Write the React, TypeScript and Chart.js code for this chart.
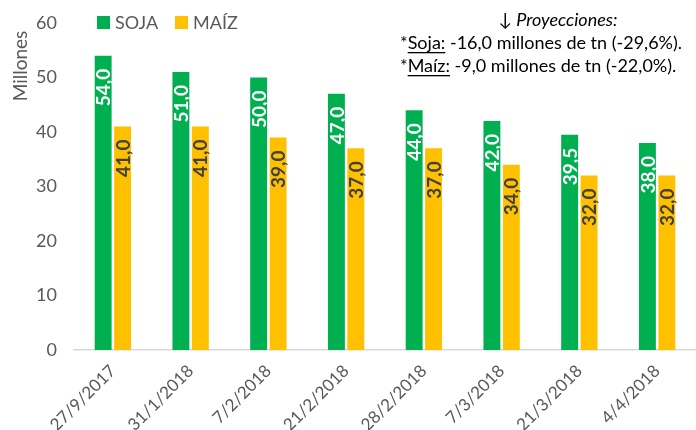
import React, { useEffect, useRef } from "react";
import { Chart, registerables } from "chart.js";

Chart.register(...registerables);

const categories = ["27/9/2017", "31/1/2018", "7/2/2018", "21/2/2018", "28/2/2018", "7/3/2018", "21/3/2018", "4/4/2018"];
const sojaValues = [54, 51, 50, 47, 44, 42, 39.5, 38];
const maizValues = [41, 41, 39, 37, 37, 34, 32, 32];
const seriesNames = ["SOJA", "MAÍZ"];
const yMin = 0;
const yMax = 60;
const yStep = 10;
const yTitle = "Millones";
const noteTitle = "↓ Proyecciones:";
const noteLines = [
  { key: "Soja:", rest: " -16,0 millones de tn (-29,6%)." },
  { key: "Maíz:", rest: " -9,0 millones de tn (-22,0%)." },
];

const GREEN = "#00B050";
const YELLOW = "#FFC000";
const FONT = "Lato, 'Open Sans', sans-serif";

const fmt = (v: number) => v.toFixed(1).replace(".", ",");

const overlayPlugin = {
  id: "overlay",
  afterDatasetsDraw(chart: any) {
    const ctx = chart.ctx;
    ctx.save();
    // value labels
    chart.data.datasets.forEach((ds: any, di: number) => {
      const meta = chart.getDatasetMeta(di);
      meta.data.forEach((el: any, i: number) => {
        const v = ds.data[i];
        ctx.save();
        ctx.translate(el.x, el.y);
        ctx.rotate(-Math.PI / 2);
        ctx.font = `bold 19px ${FONT}`;
        ctx.fillStyle = di === 0 ? "#FFFFFF" : "#404040";
        ctx.textAlign = "right";
        ctx.textBaseline = "middle";
        ctx.fillText(fmt(v), -13, 1);
        ctx.restore();
      });
    });
    // y title
    ctx.save();
    ctx.translate(21, 66);
    ctx.rotate(-Math.PI / 2);
    ctx.font = `19px ${FONT}`;
    ctx.fillStyle = "#595959";
    ctx.textAlign = "center";
    ctx.textBaseline = "middle";
    ctx.fillText(yTitle, 0, 0);
    ctx.restore();
    // legend
    const colors = [GREEN, YELLOW];
    const lx = [97, 175];
    ctx.font = `18px ${FONT}`;
    ctx.textBaseline = "middle";
    ctx.textAlign = "left";
    seriesNames.forEach((n, i) => {
      ctx.fillStyle = colors[i];
      ctx.fillRect(lx[i], 16, 13, 13);
      ctx.fillStyle = "#595959";
      ctx.fillText(n, lx[i] + 18, 23);
    });
    // note
    ctx.fillStyle = "#000000";
    ctx.font = `italic 18px ${FONT}`;
    ctx.textAlign = "center";
    ctx.fillText(noteTitle, 558, 20);
    ctx.textAlign = "left";
    ctx.font = `18px ${FONT}`;
    noteLines.forEach((ln, i) => {
      const y = 43 + i * 23;
      let x = 400;
      ctx.fillText("*", x, y);
      x += ctx.measureText("*").width;
      const kw = ctx.measureText(ln.key).width;
      ctx.fillText(ln.key, x, y);
      ctx.fillRect(x, y + 9, kw, 1.3);
      x += kw;
      ctx.fillText(ln.rest, x, y);
    });
    ctx.restore();
  },
};

export default function App() {
  const ref = useRef<HTMLCanvasElement>(null);
  useEffect(() => {
    if (!ref.current) return;
    const chart = new Chart(ref.current, {
      type: "bar",
      data: {
        labels: categories,
        datasets: [
          { label: seriesNames[0], data: sojaValues, backgroundColor: GREEN, categoryPercentage: 0.5, barPercentage: 0.87 },
          { label: seriesNames[1], data: maizValues, backgroundColor: YELLOW, categoryPercentage: 0.5, barPercentage: 0.87 },
        ],
      },
      options: {
        responsive: false,
        animation: false,
        devicePixelRatio: 1,
        layout: { padding: { top: 23, right: -8, bottom: 0, left: 0 } },
        plugins: { legend: { display: false }, tooltip: { enabled: false } },
        scales: {
          x: {
            grid: { display: false },
            border: { color: "#D9D9D9", width: 1.5 },
            ticks: { color: "#595959", font: { family: FONT, size: 17 }, maxRotation: 45, minRotation: 45, padding: 3 },
            afterFit(scale: any) { scale.height = 80; },
          },
          y: {
            min: yMin,
            max: yMax,
            grid: { display: false },
            border: { display: false },
            ticks: { stepSize: yStep, color: "#595959", font: { family: FONT, size: 18 }, padding: 9 },
            afterFit(scale: any) { scale.width = 74; },
          },
        },
      },
      plugins: [overlayPlugin],
    });
    return () => chart.destroy();
  }, []);
  return (
    <div style={{ position: "fixed", left: 0, top: 0, width: 696, height: 430, background: "#fff" }}>
      <canvas ref={ref} width={696} height={430} />
    </div>
  );
}
